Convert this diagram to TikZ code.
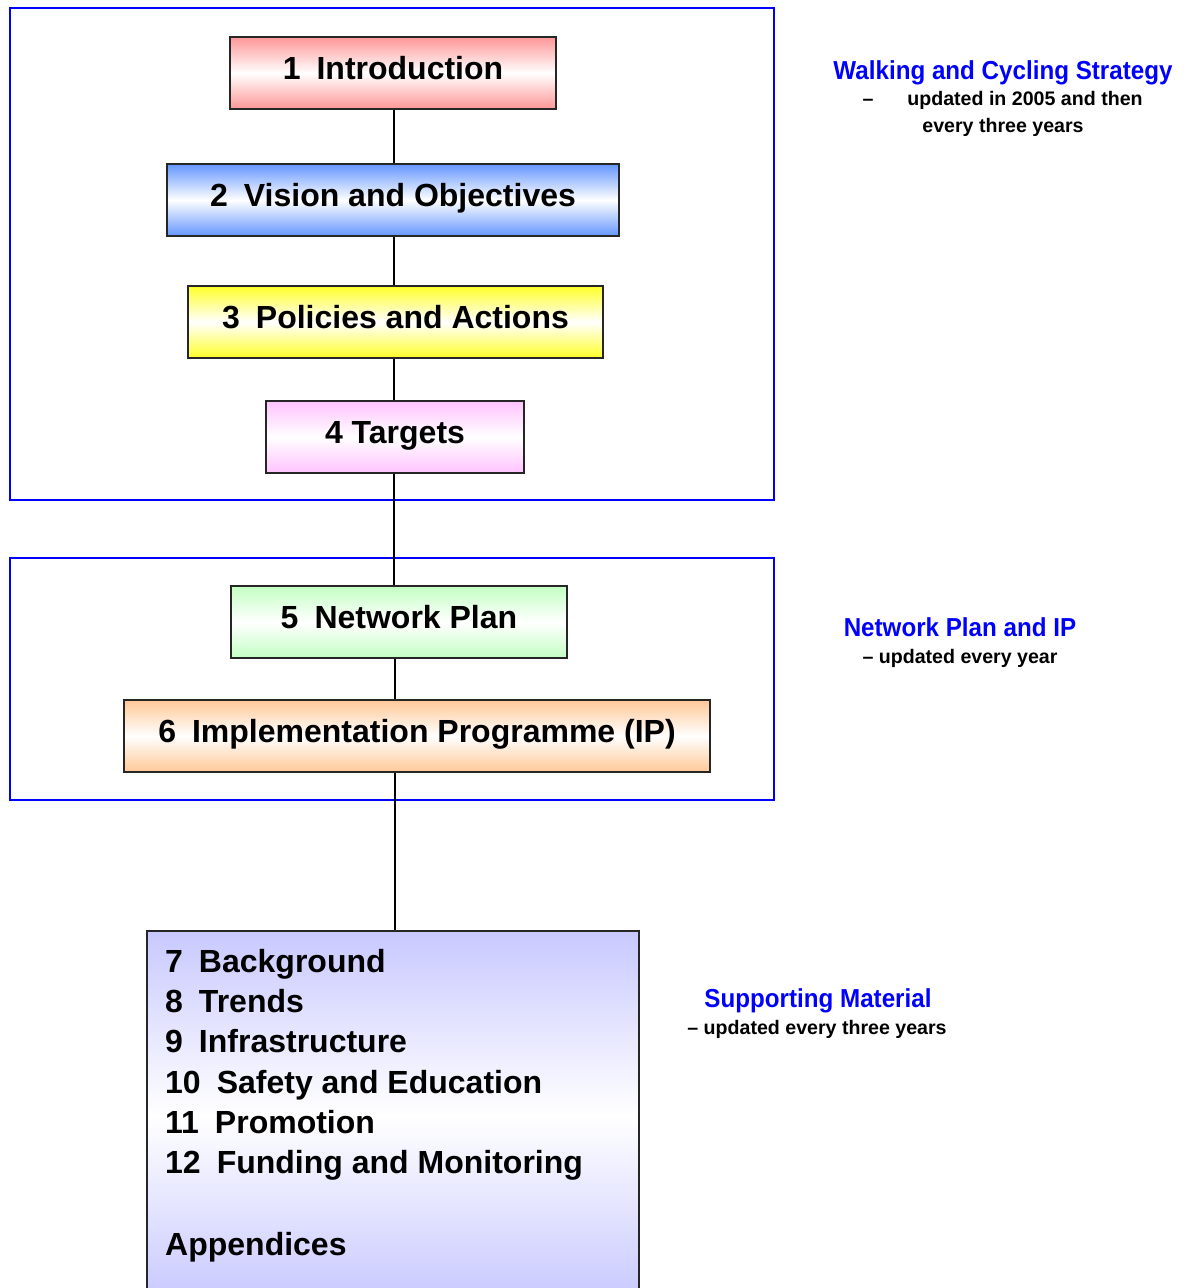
\documentclass[tikz,border=0pt]{standalone}
\usepackage{fontspec}
\setmainfont{Liberation Sans}
\newfontfamily\condfont[FakeStretch=0.93]{Liberation Sans}
\begin{document}
\begin{tikzpicture}[x=1pt,y=-1pt,
  frame/.style={draw=blue, line width=2.8pt},
  box/.style={draw=black!85, line width=1.7pt, rectangle, inner sep=0pt,
    font=\fontsize{32}{38}\selectfont\bfseries, text height=24pt, text depth=11pt,
    minimum height=72pt},
  shade3/.style={top color=#1, bottom color=#1, middle color=white},
  item/.style={anchor=base west, inner sep=0pt, font=\fontsize{32}{38}\selectfont\bfseries},
  head/.style={text=blue, inner sep=0pt, anchor=base, font=\condfont\fontsize{26}{30}\selectfont\bfseries},
  sub/.style={inner sep=0pt, anchor=base, font=\fontsize{19.6}{24}\selectfont\bfseries},
  link/.style={draw=black, line width=1.2pt}
]
\useasboundingbox (0,0) rectangle (1189,1288);
\clip (0,0) rectangle (1189,1288);
\fill[white] (0,0) rectangle (1189,1288);
\definecolor{cred}{RGB}{255,150,150}
\definecolor{cblue}{RGB}{100,150,255}
\definecolor{cyel}{RGB}{255,255,40}
\definecolor{cpink}{RGB}{255,195,255}
\definecolor{cgreen}{RGB}{195,255,195}
\definecolor{corange}{RGB}{255,200,150}
\definecolor{clav}{RGB}{200,200,255}

% frames
\draw[frame] (10,8) rectangle (774,500);
\draw[frame] (10,558) rectangle (774,800);

% bottom box
\node[box, shade3=clav, minimum width=492pt, minimum height=370pt, anchor=north west] (b7) at (146,930) {};

% boxes
\node[box, shade3=cred, minimum width=326pt] (b1) at (393,73) {1\hspace{0.5em}Introduction};
\node[box, shade3=cblue, minimum width=452pt] (b2) at (393,200) {2\hspace{0.5em}Vision and Objectives};
\node[box, shade3=cyel, minimum width=415pt] (b3) at (395.5,322) {3\hspace{0.5em}Policies and Actions};
\node[box, shade3=cpink, minimum width=258pt] (b4) at (395,437) {4 Targets};
\node[box, shade3=cgreen, minimum width=336pt] (b5) at (399,622) {5\hspace{0.5em}Network Plan};
\node[box, shade3=corange, minimum width=586pt] (b6) at (417,736) {6\hspace{0.5em}Implementation Programme (IP)};

% connectors
\draw[link] (b1.south -| 394,0) -- (b2.north -| 394,0);
\draw[link] (b2.south -| 394,0) -- (b3.north -| 394,0);
\draw[link] (b3.south -| 394,0) -- (b4.north -| 394,0);
\draw[link] (b4.south -| 394,0) -- (b5.north -| 394,0);
\draw[link] (b5.south -| 395,0) -- (b6.north -| 395,0);
\draw[link] (b6.south -| 395,0) -- (b7.north -| 395,0);

% list
\node[item] (t7) at (165,972.5) {7\hspace{0.5em}Background};
\node[item] (t8) at (165,1012.5) {8\hspace{0.5em}Trends};
\node[item] (t9) at (165,1052.5) {9\hspace{0.5em}Infrastructure};
\node[item] (t10) at (165,1093) {10\hspace{0.5em}Safety and Education};
\node[item] (t11) at (165,1133) {11\hspace{0.5em}Promotion};
\node[item] (t12) at (165,1173) {12\hspace{0.5em}Funding and Monitoring};
\node[item] (tA) at (165,1255) {Appendices};

% right labels
\node[head] (h1) at (1003,79) {Walking and Cycling Strategy};
\node[sub] (s1a) at (868,105) {–};
\node[sub] (s1b) at (1025,105) {updated in 2005 and then};
\node[sub] (s1c) at (1003,132) {every three years};

\node[head] (h2) at (960,636) {Network Plan and IP};
\node[sub] (s2) at (960,663) {– updated every year};

\node[head] (h3) at (818,1007) {Supporting Material};
\node[sub] (s3) at (817,1034) {– updated every three years};
\end{tikzpicture}
\end{document}
